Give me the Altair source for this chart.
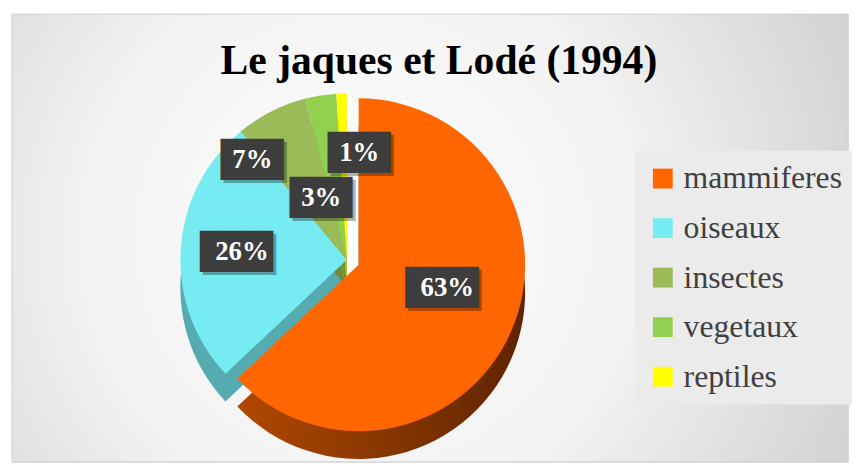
import math
import altair as alt
import pandas as pd

# ---- data ----
categories = ["mammiferes", "oiseaux", "insectes", "vegetaux", "reptiles"]
shares = [63, 26, 7, 3, 1]
labels = ["63%", "26%", "7%", "3%", "1%"]

# ---- styles ----
top_colors = ["#FF6600", "#77EBF2", "#9BBB59", "#92D050", "#FFFF00"]

W, H = 844, 452
CX, CY = 338, 248          # pie centre (view px)
R = 168                    # pie radius
DEPTH = 28                 # 3-D wall height
EX, EY = 12, 5             # explosion offset of the first slice

label_style = {
    "mammiferes": dict(radius=92, dx=5, dy=-13),
    "oiseaux": dict(radius=106, dx=0, dy=-1),
    "insectes": dict(radius=113, dx=-44, dy=0),
    "vegetaux": dict(radius=63, dx=-16, dy=0),
    "reptiles": dict(radius=108, dx=16, dy=0),
}

df = pd.DataFrame({"cat": categories, "value": shares, "label": labels,
                   "order": list(range(len(categories)))})

theta_scale = alt.Scale(domain=[0, 100], range=[0, 2 * math.pi])

base = (
    alt.Chart(df)
    .transform_window(end="sum(value)", sort=[alt.SortField("order")], frame=[None, 0])
    .transform_calculate(start="datum.end - datum.value",
                         mid="datum.end - datum.value / 2",
                         box="length(datum.label) > 2 ? '███▌' : '███'")
)

theta_enc = dict(theta=alt.Theta("start:Q", scale=theta_scale, stack=None),
                 theta2=alt.Theta2("end:Q"))

color_enc = alt.Color("cat:N", scale=alt.Scale(domain=categories, range=top_colors),
                      sort=categories,
                      legend=alt.Legend(title=None, orient="none", legendX=629, legendY=138,
                                        symbolType="square", symbolSize=400,
                                        symbolStrokeWidth=0,
                                        labelFont="Liberation Serif", labelFontSize=32,
                                        labelColor="#404040", labelOffset=5,
                                        rowPadding=18, padding=12,
                                        fillColor="#ebebeb"))

first = categories[0]
others = base.transform_filter(alt.datum.cat != first)
mamm = base.transform_filter(alt.datum.cat == first)

bg_grad = alt.RadialGradient(
    gradient="radial", x1=0.42, y1=0.5, r1=0, x2=0.42, y2=0.5, r2=0.75,
    stops=[alt.GradientStop(offset=0, color="#ffffff"),
           alt.GradientStop(offset=0.45, color="#f2f2f2"),
           alt.GradientStop(offset=1, color="#c6c6c6")])
background = alt.Chart(pd.DataFrame({"panel": [0]})).mark_rect(
    fill=bg_grad, stroke="#d0d0d0", strokeWidth=1).encode(
    x=alt.value(0), x2=alt.value(W), y=alt.value(0), y2=alt.value(H))

depth_others = others.mark_arc(radius=R).encode(
    x=alt.value(CX), y=alt.value(CY + DEPTH), color=color_enc, **theta_enc)
shade_others = others.mark_arc(radius=R, fill="#000000", opacity=0.27).encode(
    x=alt.value(CX), y=alt.value(CY + DEPTH), **theta_enc)
top_others = others.mark_arc(radius=R).encode(
    x=alt.value(CX), y=alt.value(CY), color=color_enc, **theta_enc)
depth_first = mamm.mark_arc(
    radius=R,
    fill=alt.LinearGradient(gradient="linear", x1=0, y1=0, x2=1, y2=0,
                            stops=[alt.GradientStop(offset=0, color="#B04800"),
                                   alt.GradientStop(offset=1, color="#5E2400")])
).encode(x=alt.value(CX + EX), y=alt.value(CY + EY + DEPTH), **theta_enc)
top_first = mamm.mark_arc(radius=R).encode(
    x=alt.value(CX + EX), y=alt.value(CY + EY), color=color_enc, **theta_enc)

layers = [background, depth_others, shade_others, top_others, depth_first, top_first]

for cat in categories:
    st = label_style[cat]
    ox, oy = (CX + EX, CY + EY) if cat == first else (CX, CY)
    sub = base.transform_filter(alt.datum.cat == cat)
    pos = dict(x=alt.value(ox), y=alt.value(oy),
               theta=alt.Theta("mid:Q", scale=theta_scale, stack=None))
    shadow = sub.mark_text(radius=st["radius"], dx=st["dx"] + 3, dy=st["dy"] + 3,
                           font="DejaVu Sans Mono", fontSize=35, baseline="middle",
                           align="center", color="#000000", opacity=0.3).encode(
        text="box:N", **pos)
    box = sub.mark_text(radius=st["radius"], dx=st["dx"], dy=st["dy"],
                        font="DejaVu Sans Mono", fontSize=35, baseline="middle",
                        align="center", color="#3d3d3d").encode(text="box:N", **pos)
    txt = sub.mark_text(radius=st["radius"], dx=st["dx"], dy=st["dy"],
                        font="Liberation Serif", fontSize=27, fontWeight="bold",
                        baseline="middle", align="center", color="#ffffff").encode(
        text="label:N", **pos)
    layers += [shadow, box, txt]

chart = (
    alt.layer(*layers)
    .properties(
        width=W, height=H,
        padding={"left": 4, "top": 4, "right": 4, "bottom": 4},
        autosize=alt.AutoSizeParams(type="none"),
        title=alt.TitleParams("Le jaques et Lodé (1994)", font="Liberation Serif",
                              fontSize=42, fontWeight="bold", color="#000000",
                              anchor="middle", baseline="alphabetic", offset=-103,
                              dx=9),
    )
    .configure_view(stroke=None)
    .configure(background="#ffffff")
)

chart.save("out.html", embed_options={"renderer": "svg", "actions": False})
